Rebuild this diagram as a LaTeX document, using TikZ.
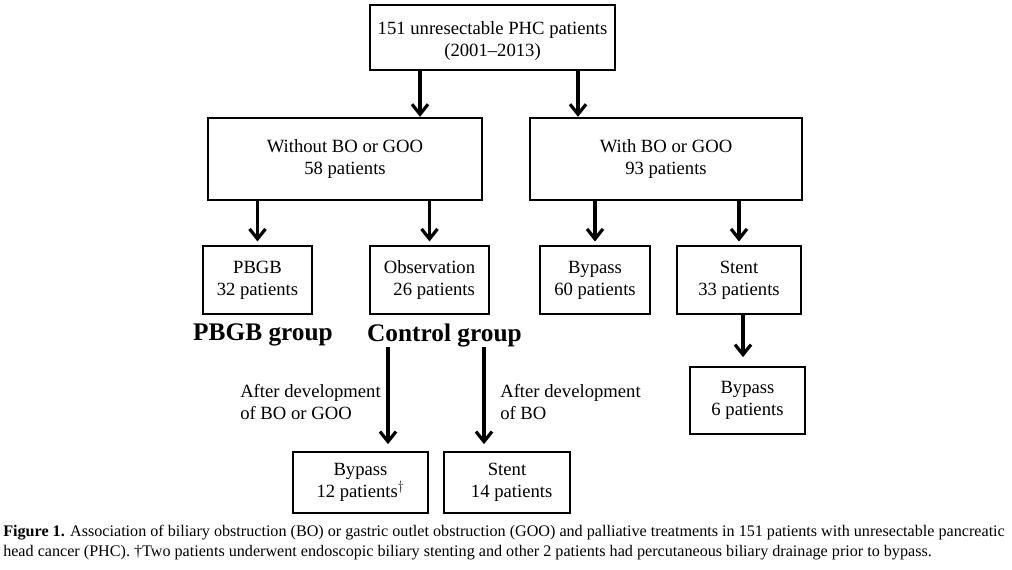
\documentclass[tikz,border=0pt]{standalone}
\usepackage{fontspec}
\setmainfont{Liberation Serif}
\usetikzlibrary{arrows.meta,positioning,calc}

\begin{document}
\begin{tikzpicture}[x=0.75pt,y=-0.75pt,
    box/.style={draw=black,line width=1.8pt,align=center,inner sep=0pt,
      font=\fontsize{14}{16.5}\selectfont},
    arr/.style={line width=2.8pt,-{Straight Barb[length=7.5pt,width=12pt,line width=2.4pt]}},
    grp/.style={font=\fontsize{19}{22}\selectfont\bfseries},
    note/.style={align=left,anchor=west,inner sep=0pt,font=\fontsize{14}{16.5}\selectfont}]

  \useasboundingbox (0,0) rectangle (1012,569);

  %%% boxes
  %% level 1
  \node [box,minimum width=183.75pt,minimum height=48.75pt] (PHC) at (492.5,37.5)
    {\rule{0pt}{15pt}151 unresectable PHC patients\\(2001--2013)};

  %% level 2
  \node [box,minimum width=205.5pt,minimum height=61.5pt] (noBO) at (345,159)
    {Without BO or GOO\\58 patients};
  \node [box,minimum width=204pt,minimum height=61.5pt] (withBO) at (666,159)
    {With BO or GOO\\93 patients};

  %% level 3
  \node [box,minimum width=81.75pt,minimum height=51pt] (PBGB) at (257.5,280)
    {PBGB\\32 patients};
  \node [box,minimum width=89.25pt,minimum height=51pt] (Obs) at (429.5,280)
    {Observation\\\ \ 26 patients};
  \node [box,minimum width=82.5pt,minimum height=51pt] (Bypass) at (595,280)
    {Bypass\\60 patients};
  \node [box,minimum width=93pt,minimum height=51pt] (Stent) at (739,280)
    {Stent\\33 patients};

  \node [grp] (PBGBgroup) at (263,335) {PBGB group};
  \node [grp] (Ctrlgroup) at (444.5,335) {Control group};

  %% level 4
  \node [box,minimum width=86.25pt,minimum height=50.25pt] (Bypass6) at (747.5,400.5)
    {Bypass\\6 patients};
  \node [box,minimum width=101.25pt,minimum height=45.75pt] (Bypass12) at (360.5,482.5)
    {Bypass\\12 patients$^{\dagger}$};
  \node [box,minimum width=94.5pt,minimum height=45.75pt] (Stent14) at (507,482.5)
    {Stent\\\ \ 14 patients};

  \node [note] (afterBOGOO) at (240,402) {After development\\of BO or GOO};
  \node [note] (afterBO) at (500,402) {After development\\of BO};

  %%% arrows
  \coordinate (A1) at ($(PHC.south) + (-72.5,0)$);
  \coordinate (A2) at ($(PHC.south) + (85.5,0)$);
  \draw[arr] (A1) -- (A1 |- noBO.north);
  \draw[arr] (A2) -- (A2 |- withBO.north);

  \draw[arr,shorten >=2.5pt] (PBGB.north |- noBO.south) -- (PBGB.north);
  \draw[arr,shorten >=2.5pt] (Obs.north |- noBO.south) -- (Obs.north);
  \draw[arr,shorten >=2.5pt] (Bypass.north |- withBO.south) -- (Bypass.north);
  \draw[arr,shorten >=2.5pt] (Stent.north |- withBO.south) -- (Stent.north);

  \coordinate (A3) at ($(Stent.south) + (4,0)$);
  \draw[arr,shorten >=6.5pt] (A3) -- (A3 |- Bypass6.north);

  \coordinate (A4) at ($(Bypass12.north) + (27.5,-104)$);
  \coordinate (A5) at ($(Stent14.north) + (-23,-104)$);
  \draw[arr,shorten >=5pt] (A4) -- (A4 |- Bypass12.north);
  \draw[arr,shorten >=5pt] (A5) -- (A5 |- Stent14.north);

  %%% caption
  \node [anchor=north west,align=left,inner sep=0pt,
    font=\fontsize{12.1}{15}\selectfont] (caption) at (3,525)
    {\textbf{Figure 1.} Association of biliary obstruction (BO) or gastric outlet obstruction (GOO) and palliative treatments in 151 patients with unresectable pancreatic\\
     head cancer (PHC). \textdagger Two patients underwent endoscopic biliary stenting and other 2 patients had percutaneous biliary drainage prior to bypass.};
\end{tikzpicture}
\end{document}
